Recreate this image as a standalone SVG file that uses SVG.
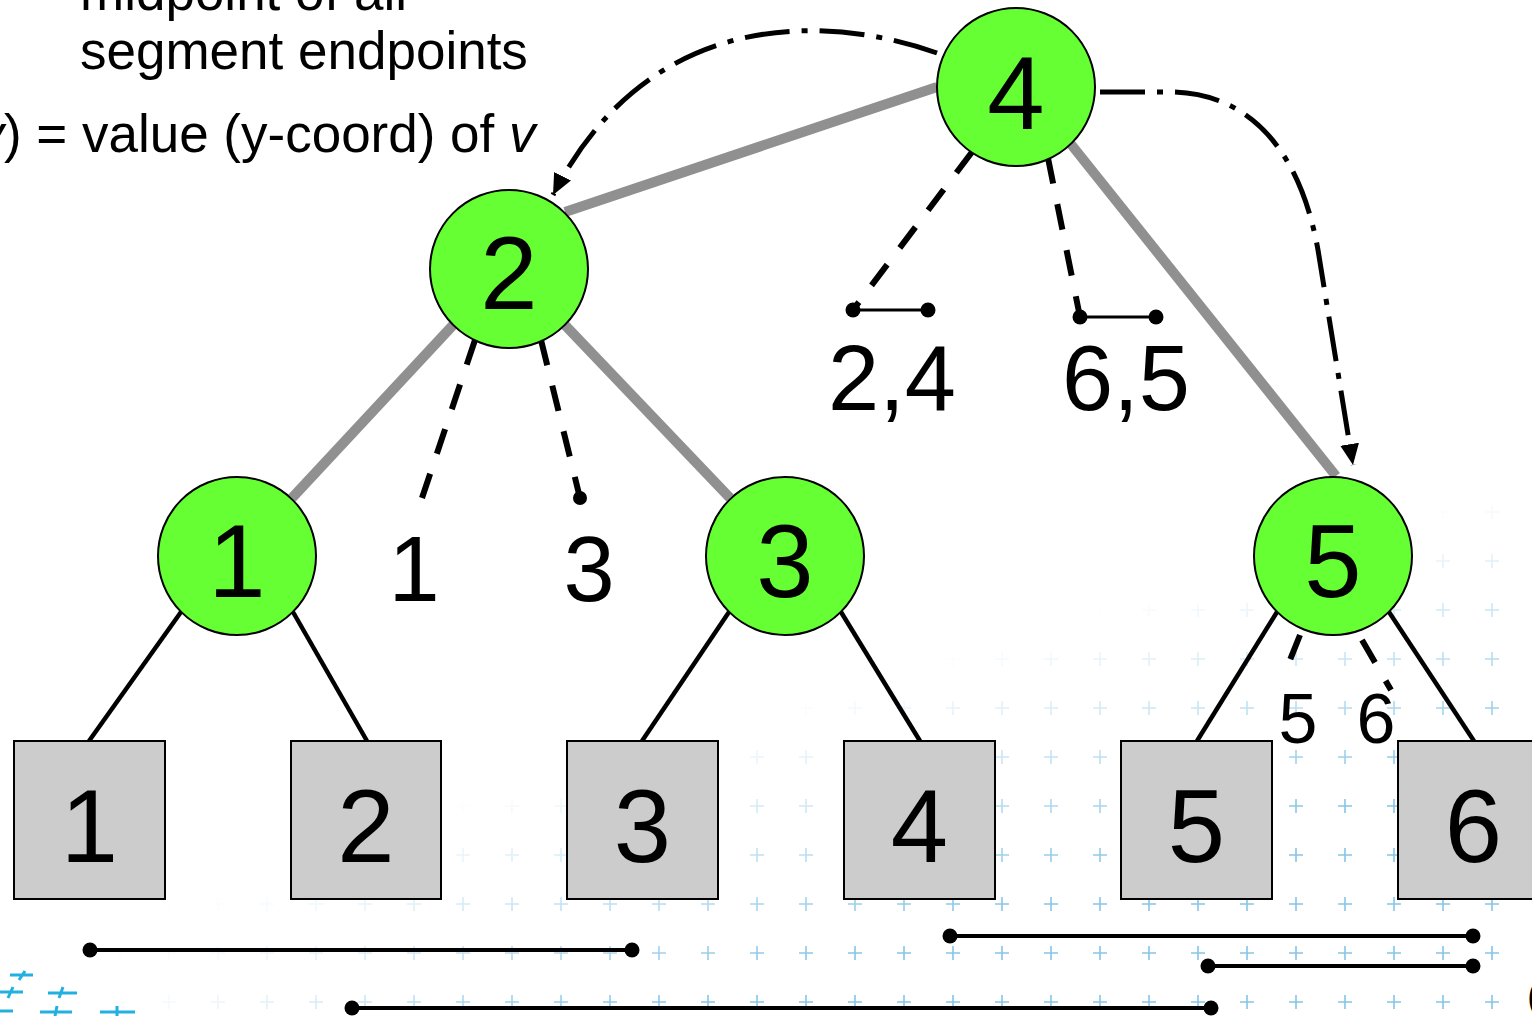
<svg xmlns="http://www.w3.org/2000/svg" width="1532" height="1016" viewBox="0 0 1532 1016">
<style>
text{font-family:"Liberation Sans",Arial,sans-serif;fill:#000}
.big{font-size:103px;text-anchor:middle}
.lab{font-size:92px;text-anchor:middle}
.sm{font-size:70px;text-anchor:middle}
.note{font-size:53px}
.node circle{fill:#66ff33;stroke:#000;stroke-width:2}
.leaf rect{fill:#cccccc;stroke:#000;stroke-width:2}
.tree{stroke:#909090;stroke-width:10;fill:none}
.edge{stroke:#000;stroke-width:4.5;fill:none}
.dash{stroke:#000;stroke-width:6;fill:none;stroke-dasharray:26 21}
.dd{stroke:#000;stroke-width:5;fill:none;stroke-dasharray:45 12 6 12}
.seg{stroke:#000;stroke-width:4;fill:none}
.segs{stroke:#000;stroke-width:3;fill:none}
.dot{fill:#000}
.lp{stroke:#22b0e0;stroke-width:3;fill:none}
</style>
<defs>
<pattern id="plus" x="0" y="0" width="49" height="49" patternUnits="userSpaceOnUse">
<path d="M15 22H29M22 15V29" stroke="#86c5e6" stroke-width="1.6"/>
</pattern>
<linearGradient id="g1" gradientUnits="userSpaceOnUse" x1="255" y1="860" x2="330" y2="1110">
<stop offset="0" stop-color="#000"/>
<stop offset="0.35" stop-color="#555"/>
<stop offset="1" stop-color="#fff"/>
</linearGradient>
<linearGradient id="g2" gradientUnits="userSpaceOnUse" x1="80" y1="0" x2="500" y2="0">
<stop offset="0" stop-color="#000"/>
<stop offset="1" stop-color="#fff"/>
</linearGradient>
<mask id="m1"><rect x="0" y="0" width="1532" height="1016" fill="url(#g1)"/></mask>
<mask id="m2"><rect x="0" y="0" width="1532" height="1016" fill="url(#g2)"/></mask>
<marker id="arr" viewBox="0 0 10 10" refX="10" refY="5" markerWidth="21" markerHeight="21" markerUnits="userSpaceOnUse" orient="auto">
<path d="M0 0.5L10 5L0 9.5z" fill="#000"/>
</marker>
</defs>

<g id="background">
<g mask="url(#m2)"><g mask="url(#m1)">
<rect x="0" y="460" width="1532" height="556" fill="url(#plus)"/>
</g></g>
<g id="logo-marks">
<path class="lp" d="M10 975H33M25 971L19 980"/>
<path class="lp" d="M0 992H23M13 987L8 998"/>
<path class="lp" d="M48 993H77M63 987L59 998" stroke="#0d5aa7"/>
<path class="lp" d="M0 1011H13"/>
<path class="lp" d="M40 1012H72M57 1006L55 1016"/>
<path class="lp" d="M100 1012H135M117 1006V1016"/>
</g>
</g>

<g id="notes">
<text class="note" x="80" y="10">midpoint of all</text>
<text class="note" x="80" y="69">segment endpoints</text>
<text class="note" x="-22.6" y="152"><tspan font-style="italic">v</tspan>) = value (y-coord) of <tspan font-style="italic">v</tspan></text>
<text x="1527" y="1010" font-size="40">(</text>
</g>

<g id="connectors">
<path class="tree" d="M937 87L565 212"/>
<path class="tree" d="M1070 143L1336 476"/>
<path class="tree" d="M455 323L292 498"/>
<path class="tree" d="M563 323L730 498"/>
<path class="edge" d="M181 612L89 741"/>
<path class="edge" d="M293 612L367 741"/>
<path class="edge" d="M729 612L642 741"/>
<path class="edge" d="M841 612L920 741"/>
<path class="edge" d="M1277 612L1197 741"/>
<path class="edge" d="M1389 612L1474 741"/>
<path class="dash" d="M475 340L422 498"/>
<path class="dash" d="M541 340L580 498"/>
<path class="dash" d="M972 152L853 310"/>
<path class="dash" d="M1048 158L1080 317"/>
<path class="dash" d="M1300 635L1288 665" stroke-dasharray="27 100"/>
<path class="dash" d="M1362 640L1391 690"/>
<path class="dd" d="M937 53C830 15 650 5 553 195" marker-end="url(#arr)"/>
<path class="dd" d="M1100 92L1175 92C1250 95 1300 150 1318 250L1353 465" marker-end="url(#arr)"/>
</g>

<g id="segments">
<circle class="dot" cx="580" cy="498" r="7"/>
<path class="segs" d="M853 310H928"/>
<circle class="dot" cx="853" cy="310" r="7.5"/>
<circle class="dot" cx="928" cy="310" r="7.5"/>
<path class="segs" d="M1080 317H1156"/>
<circle class="dot" cx="1080" cy="317" r="7.5"/>
<circle class="dot" cx="1156" cy="317" r="7.5"/>
<path class="seg" d="M90 950H632"/>
<circle class="dot" cx="90" cy="950" r="7.5"/>
<circle class="dot" cx="632" cy="950" r="7.5"/>
<path class="seg" d="M950 936H1473"/>
<circle class="dot" cx="950" cy="936" r="7.5"/>
<circle class="dot" cx="1473" cy="936" r="7.5"/>
<path class="seg" d="M1208 966H1473"/>
<circle class="dot" cx="1208" cy="966" r="7.5"/>
<circle class="dot" cx="1473" cy="966" r="7.5"/>
<path class="seg" d="M352 1008H1211"/>
<circle class="dot" cx="352" cy="1008" r="7.5"/>
<circle class="dot" cx="1211" cy="1008" r="7.5"/>
</g>

<g id="labels">
<text class="lab" x="414" y="601">1</text>
<text class="lab" x="589" y="601">3</text>
<text class="lab" x="892" y="410">2,4</text>
<text class="lab" x="1126" y="410">6,5</text>
<text class="sm" x="1298" y="743">5</text>
<text class="sm" x="1376" y="743">6</text>
</g>

<g id="node-4" class="node"><circle cx="1016" cy="87" r="79"/><text class="big" x="1016" y="129">4</text></g>
<g id="node-2" class="node"><circle cx="509" cy="269" r="79"/><text class="big" x="509" y="309">2</text></g>
<g id="node-1" class="node"><circle cx="237" cy="556" r="79"/><text class="big" x="237" y="597">1</text></g>
<g id="node-3" class="node"><circle cx="785" cy="556" r="79"/><text class="big" x="785" y="597">3</text></g>
<g id="node-5" class="node"><circle cx="1333" cy="556" r="79"/><text class="big" x="1333" y="597">5</text></g>

<g id="leaf-1" class="leaf"><rect x="14" y="741" width="151" height="158"/><text class="big" x="89.5" y="862">1</text></g>
<g id="leaf-2" class="leaf"><rect x="291" y="741" width="150" height="158"/><text class="big" x="366" y="862">2</text></g>
<g id="leaf-3" class="leaf"><rect x="567" y="741" width="151" height="158"/><text class="big" x="642.5" y="862">3</text></g>
<g id="leaf-4" class="leaf"><rect x="844" y="741" width="151" height="158"/><text class="big" x="919.5" y="862">4</text></g>
<g id="leaf-5" class="leaf"><rect x="1121" y="741" width="151" height="158"/><text class="big" x="1196.5" y="862">5</text></g>
<g id="leaf-6" class="leaf"><rect x="1398" y="741" width="151" height="158"/><text class="big" x="1473.5" y="862">6</text></g>
</svg>
